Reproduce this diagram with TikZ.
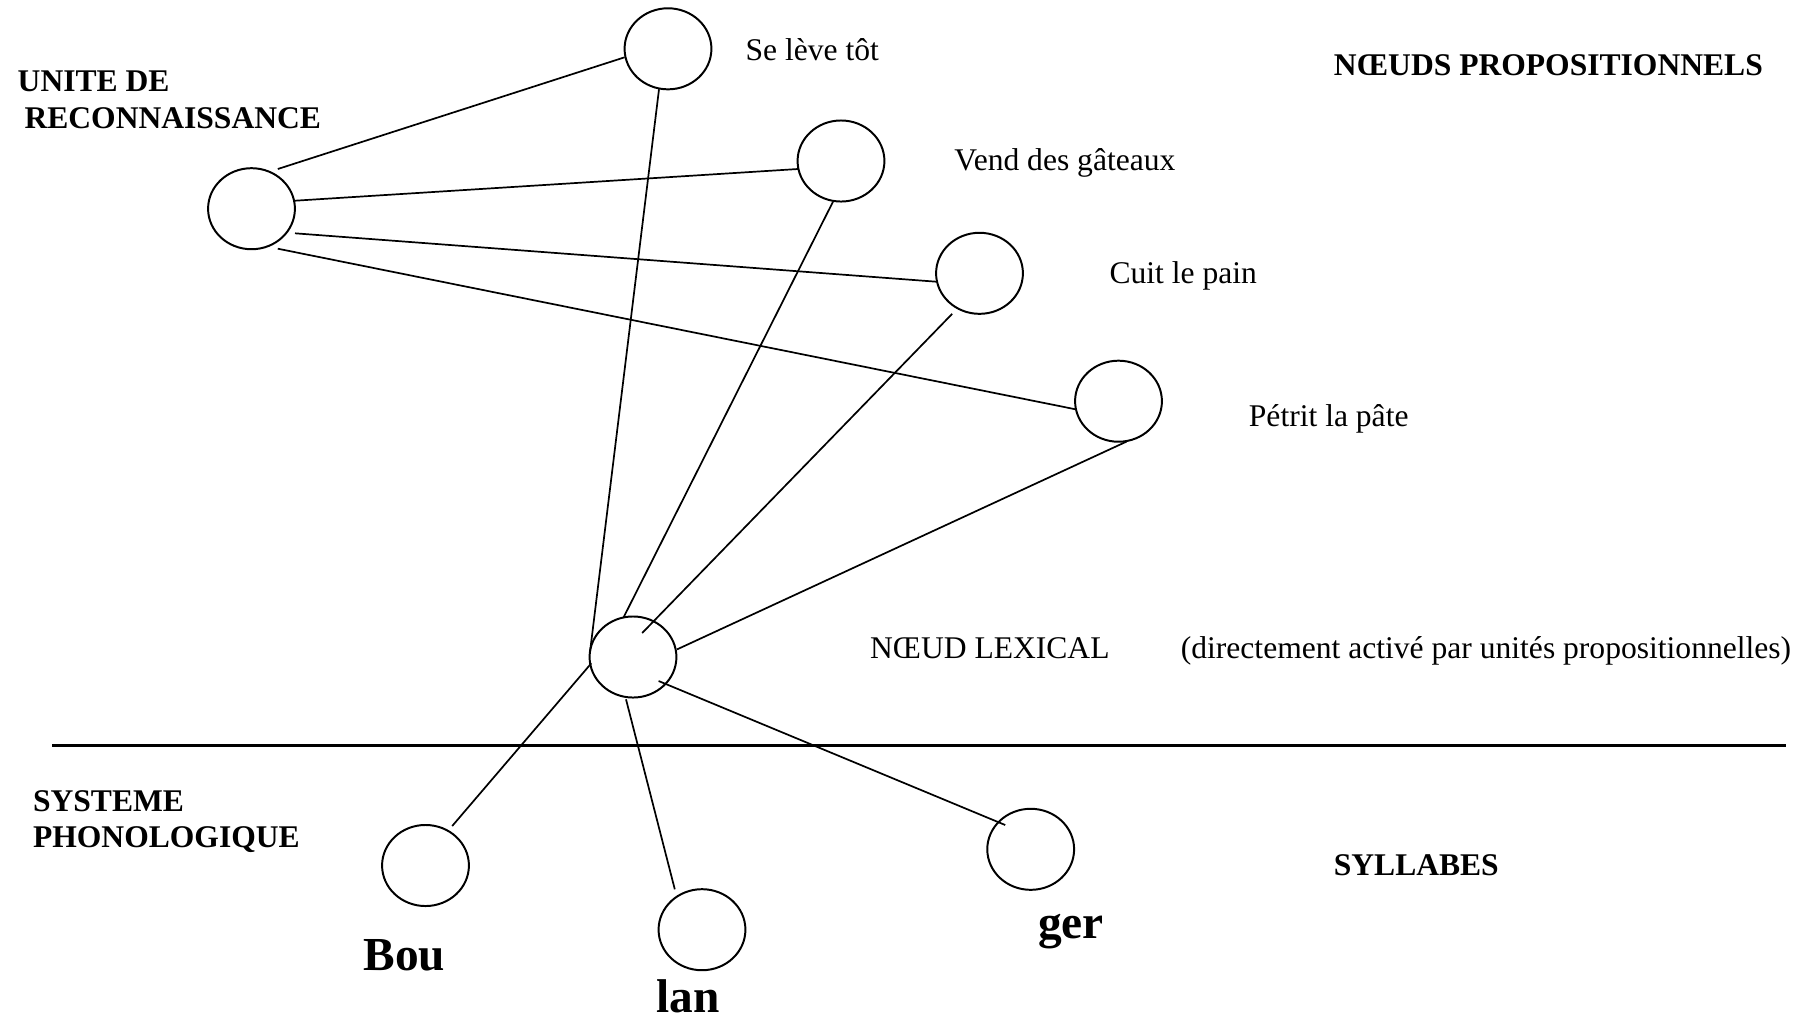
\documentclass[tikz,border=0pt]{standalone}
\usepackage{fontspec}
\setmainfont{Liberation Serif}
\usetikzlibrary{shapes.geometric,calc}
\tikzset{
  unit/.style={draw, ellipse, inner sep=0pt, minimum width=33pt, minimum height=30.8pt, line width=0.75pt},
  link/.style={line width=0.65pt},
  lbl/.style={anchor=base west, inner sep=0pt, font=\fontsize{12}{14}\selectfont},
  blbl/.style={anchor=base west, inner sep=0pt, font=\fontsize{12}{14}\selectfont\bfseries},
  syl/.style={anchor=base west, inner sep=0pt, font=\fontsize{18}{20}\selectfont\bfseries}
}
\begin{document}
\begin{tikzpicture}[x=0.38pt, y=-0.38pt]
\useasboundingbox (0,0) rectangle (1818,1020);

% nodes
\node[unit] (ur) at (251.5,208.7) {};
\node[unit] (top) at (668,48.8) {};
\node[unit] (vend) at (841,161) {};
\node[unit] (cuit) at (979.5,273.3) {};
\node[unit] (petrit) at (1118.5,401.2) {};
\node[unit] (lex) at (633,657) {};
\node[unit] (bou) at (425.5,865.5) {};
\node[unit] (lan) at (702,929.7) {};
\node[unit] (ger) at (1030.7,849.3) {};

% connectors
\draw[link] ($(ur)+(26.3,-39.7)$) -- ($(top)+(-43.4,8.5)$);
\draw[link] ($(ur)+(43.5,-8)$) -- ($(vend)+(-43,8)$);
\draw[link] ($(ur)+(43.5,24.6)$) -- ($(cuit)+(-43.2,8.4)$);
\draw[link] ($(ur)+(26.3,40)$) -- ($(petrit)+(-42.9,8.1)$);
\draw[link] ($(top)+(-9,40.5)$) -- ($(lex)+(-43,-5)$);
\draw[link] ($(vend)+(-8,40.7)$) -- ($(lex)+(-9.6,-39.3)$);
\draw[link] ($(cuit)+(-27.3,40.5)$) -- ($(lex)+(9.2,-24)$);
\draw[link] ($(petrit)+(8,40.4)$) -- ($(lex)+(44,-7.6)$);
\draw[link] ($(lex)+(-41.7,6.3)$) -- ($(bou)+(26.7,-39.5)$);
\draw[link] ($(lex)+(-7,42.3)$) -- ($(lan)+(-27.2,-40.4)$);
\draw[link] ($(lex)+(25.6,24)$) -- ($(ger)+(-25.5,-24.3)$);

% separator
\coordinate (sepL) at (52,745.6);
\coordinate (sepR) at (1785.5,745.6);
\draw[line width=1pt] (sepL) -- (sepR);

% texts
\node[blbl] (t1) at (17.2,91.7) {UNITE DE};
\node[blbl] (t2) at (24,128.3) {RECONNAISSANCE};
\node[lbl] (t3) at (745,60) {Se lève tôt};
\node[blbl] (t4) at (1333.3,75) {NŒUDS PROPOSITIONNELS};
\node[lbl] (t5) at (953.9,170) {Vend des gâteaux};
\node[lbl] (t6) at (1109,283.3) {Cuit le pain};
\node[lbl] (t7) at (1248.4,426) {Pétrit la pâte};
\node[lbl] (t8) at (869.6,658.3) {NŒUD LEXICAL};
\node[lbl] (t9) at (1180.3,658.3) {(directement activé par unités propositionnelles)};
\node[blbl] (t10) at (32.5,811.7) {SYSTEME};
\node[blbl] (t11) at (32.5,847.7) {PHONOLOGIQUE};
\node[blbl] (t12) at (1333.3,875) {SYLLABES};
\node[syl] (t13) at (363,970.7) {Bou};
\node[syl] (t14) at (656,1012) {lan};
\node[syl] (t15) at (1037.7,938.3) {ger};
\end{tikzpicture}
\end{document}
